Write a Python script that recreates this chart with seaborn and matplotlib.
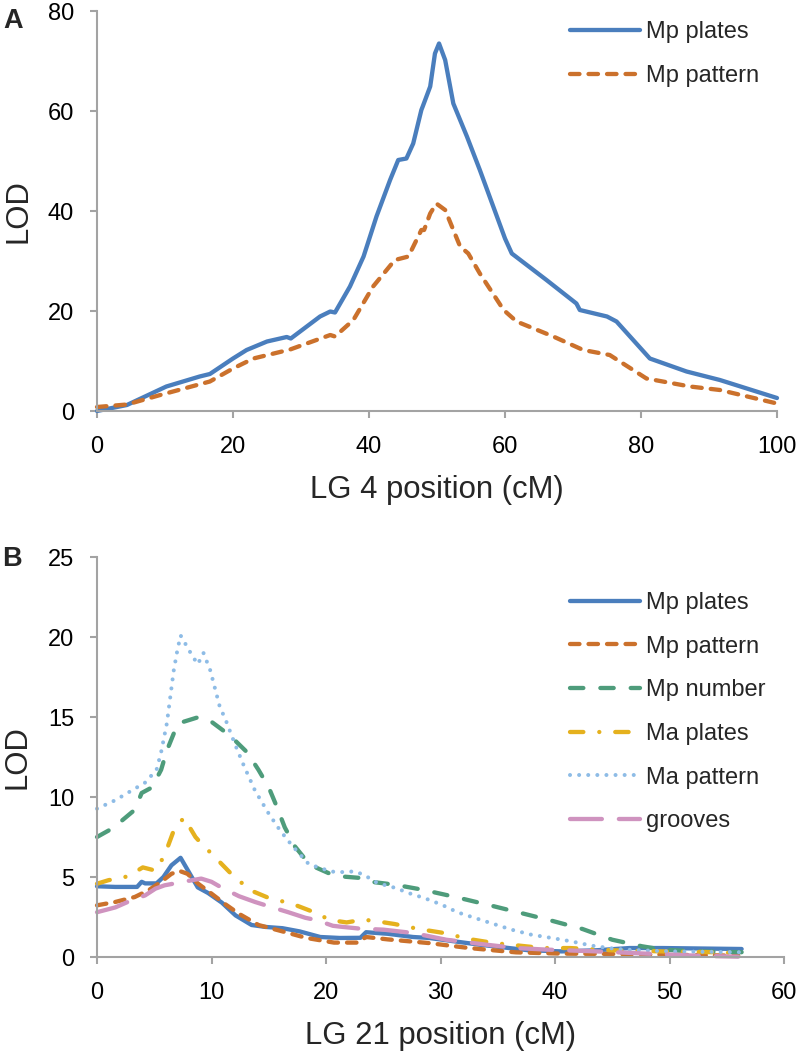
import numpy as np
import pandas as pd
import matplotlib
matplotlib.use("Agg")
import matplotlib.pyplot as plt
import seaborn as sns

# --- Panel A: LG 4 scan (position in cM, LOD) ---
lg4_plates_x = [0, 4.4, 10.2, 15.1, 16.6, 20.0, 22.0, 25.0, 27.9, 28.5, 32.8, 34.3, 35.0,
                37.2, 39.2, 41.1, 43.1, 44.3, 45.5, 46.5, 47.7, 47.9, 49.0, 49.7, 50.3,
                51.2, 52.4, 54.4, 56.3, 60.0, 61.0, 66.1, 70.5, 71.0, 75.0, 76.4, 81.3,
                86.7, 91.6, 100.0]
lg4_plates_lod = [0, 1.2, 4.9, 6.9, 7.4, 10.5, 12.2, 13.9, 14.8, 14.5, 18.9, 19.9, 19.7,
                  24.9, 30.9, 38.9, 46.2, 50.2, 50.5, 53.5, 60.2, 60.9, 64.9, 71.5, 73.5,
                  70.2, 61.5, 54.9, 48.2, 34.5, 31.5, 26.2, 21.5, 20.2, 18.9, 17.9, 10.5,
                  7.9, 6.2, 2.6]
lg4_pattern_x = [0, 4.4, 9.3, 16.6, 20.0, 23.0, 28.4, 34.3, 35.0, 37.7, 40.6, 43.8, 45.8,
                 47.7, 48.1, 49.0, 49.9, 51.2, 53.4, 54.6, 56.3, 59.8, 61.7, 67.1, 71.5,
                 75.4, 80.8, 87.2, 91.6, 100.0]
lg4_pattern_lod = [0.8, 1.3, 3.2, 5.9, 8.5, 10.5, 12.3, 15.2, 14.9, 18.2, 24.9, 30.2, 30.9,
                   36.2, 36.2, 39.5, 41.5, 40.2, 32.9, 31.5, 27.5, 20.2, 17.9, 14.9, 12.2,
                   11.2, 6.5, 4.9, 4.2, 1.5]

# --- Panel B: LG 21 scan ---
lg21_mp_plates_x = [0, 1.6, 3.5, 3.9, 4.2, 5.2, 5.8, 6.5, 7.3, 8.8, 9.7, 10.9, 12.1, 13.5,
                    14.7, 16.2, 17.7, 19.5, 21.2, 23.0, 23.5, 25.4, 27.6, 29.0, 33.4, 37.7,
                    40.6, 43.6, 46.5, 49.4, 56.3]
lg21_mp_plates_lod = [4.42, 4.38, 4.38, 4.7, 4.6, 4.6, 5.0, 5.73, 6.2, 4.35, 4.0, 3.4, 2.6,
                      2.0, 1.88, 1.8, 1.6, 1.25, 1.19, 1.2, 1.55, 1.45, 1.25, 1.19, 0.77,
                      0.42, 0.35, 0.42, 0.56, 0.56, 0.5]
lg21_mp_pattern_x = [0, 1.6, 3.3, 4.5, 5.6, 6.5, 7.2, 7.9, 8.8, 10.0, 11.2, 12.4, 14.1, 16.2,
                     18.3, 20.7, 22.7, 23.5, 25.4, 29.0, 32.5, 36.6, 40.6, 45.0, 49.4, 56.0]
lg21_mp_pattern_lod = [3.23, 3.44, 3.75, 4.17, 4.7, 5.2, 5.38, 5.2, 4.6, 3.96, 3.3, 2.7, 2.0,
                       1.6, 1.19, 0.9, 0.9, 1.25, 1.1, 0.87, 0.56, 0.29, 0.21, 0.19, 0.15, 0.08]
lg21_mp_number_x = [0, 1.0, 2.2, 3.3, 3.9, 4.8, 5.6, 6.1, 6.7, 7.1, 8.0, 8.9, 10.0, 11.2,
                    12.1, 13.1, 14.1, 15.0, 15.7, 16.4, 17.3, 18.2, 19.1, 20.2, 21.1, 23.0,
                    23.6, 26.0, 28.4, 31.3, 34.1, 36.8, 39.6, 42.4, 45.0, 47.6, 49.4, 52.3,
                    56.3]
lg21_mp_number_lod = [7.5, 7.9, 8.54, 9.2, 10.25, 10.6, 11.7, 12.9, 13.96, 14.6, 14.8, 15.0,
                      14.7, 14.06, 13.5, 12.8, 11.7, 10.6, 9.4, 8.1, 6.9, 6.1, 5.6, 5.25,
                      5.05, 4.94, 4.73, 4.52, 4.21, 3.75, 3.27, 2.79, 2.29, 1.75, 1.08, 0.67,
                      0.46, 0.35, 0.3]
lg21_ma_plates_x = [0, 1.0, 2.7, 4.0, 5.1, 5.9, 6.7, 7.1, 7.6, 8.6, 9.1, 10.1, 11.8, 13.4,
                    15.0, 15.9, 17.5, 19.5, 20.2, 21.8, 23.2, 24.1, 26.0, 28.1, 30.3, 32.5,
                    34.7, 36.9, 38.9, 41.3, 45.0, 49.4, 54.6, 56.3]
lg21_ma_plates_lod = [4.58, 4.8, 5.04, 5.6, 5.4, 6.35, 7.9, 8.3, 8.7, 7.5, 7.1, 6.39, 5.14,
                      4.17, 3.69, 3.54, 3.2, 2.65, 2.33, 2.16, 2.33, 2.27, 2.06, 1.75, 1.5,
                      1.12, 0.87, 0.71, 0.56, 0.56, 0.42, 0.35, 0.29, 0.21]
lg21_ma_pattern_x = [0, 1.6, 2.9, 4.2, 5.2, 5.6, 6.1, 6.4, 6.7, 7.0, 7.3, 7.7, 8.3, 8.8, 9.3,
                     9.9, 10.3, 10.7, 11.3, 12.05, 12.8, 13.8, 15.0, 16.0, 17.0, 18.5, 20.2,
                     20.9, 22.5, 23.3, 24.5, 26.1, 27.2, 28.6, 30.1, 31.5, 33.0, 34.4, 36.2,
                     37.9, 39.7, 41.4, 43.2, 44.7, 46.1, 50.0, 56.3]
lg21_ma_pattern_lod = [9.27, 9.8, 10.35, 10.9, 11.7, 12.8, 14.6, 16.25, 17.9, 19.1, 20.1,
                       19.6, 18.85, 18.3, 19.0, 17.9, 16.8, 15.7, 14.7, 13.3, 12.0, 10.4,
                       8.96, 7.9, 7.0, 5.8, 5.4, 5.29, 5.35, 5.14, 4.62, 4.31, 4.0, 3.68,
                       3.27, 2.79, 2.44, 2.12, 1.71, 1.4, 1.19, 0.98, 0.71, 0.56, 0.46, 0.35,
                       0.3]
lg21_grooves_x = [0, 1.6, 3.0, 4.2, 5.1, 5.9, 6.8, 8.3, 9.1, 10.0, 10.9, 12.4, 13.8, 15.0,
                  16.7, 18.2, 19.2, 20.6, 21.2, 23.0, 25.0, 27.6, 30.5, 34.0, 36.6, 39.3,
                  43.6, 48.0, 52.4, 56.0]
lg21_grooves_lod = [2.8, 3.1, 3.54, 3.85, 4.27, 4.48, 4.6, 4.8, 4.9, 4.7, 4.33, 3.8, 3.44,
                    3.17, 2.8, 2.45, 2.3, 1.95, 1.9, 1.77, 1.71, 1.5, 1.08, 0.77, 0.56, 0.46,
                    0.35, 0.21, 0.08, 0.02]

lg4_ticks_x = [0, 20, 40, 60, 80, 100]
lg4_ticks_y = [0, 20, 40, 60, 80]
lg21_ticks_x = [0, 10, 20, 30, 40, 50, 60]
lg21_ticks_y = [0, 5, 10, 15, 20, 25]

# colours and Excel-like dash patterns (in units of line width)
BLUE, ORANGE, GREEN = "#4A7EBD", "#CB712C", "#4E9C7B"
GOLD, LIGHTBLUE, PINK = "#E5B11E", "#8EBCE6", "#CF93BF"
AXIS_GREY = "#A3A3A3"
LW = 3.1
SHORT_DASH = (0, (2.2, 2.1))
LONG_DASH = (0, (3.1, 3.95))
DASH_DOT = (0, (3.1, 3.7, 0.01, 3.7))
DOTS = (0, (0.01, 2.25))
LONG_LONG_DASH = (0, (7.4, 3.95))

sns.set_style("ticks")
plt.rcParams["font.family"] = ["Liberation Sans", "DejaVu Sans"]
plt.rcParams["lines.dash_capstyle"] = "round"
plt.rcParams["lines.solid_capstyle"] = "round"
plt.rcParams["lines.dash_joinstyle"] = "round"
plt.rcParams["lines.solid_joinstyle"] = "round"

W, H = 797, 1054
fig = plt.figure(figsize=(W / 100, H / 100), dpi=100)
ax_a = fig.add_axes([97 / W, 1 - 411 / H, 680 / W, 400 / H])
ax_b = fig.add_axes([97 / W, 1 - 957 / H, 687 / W, 400 / H])


def draw(ax, x, y, label, color, ls, lw=LW):
    df = pd.DataFrame({"pos": x, "lod": y})
    sns.lineplot(data=df, x="pos", y="lod", ax=ax, color=color, linestyle=ls,
                 linewidth=lw, label=label, estimator=None, sort=False, clip_on=False)


def style_axis(ax, xticks, yticks, xlabel):
    ax.set_xlim(xticks[0], xticks[-1])
    ax.set_ylim(yticks[0], yticks[-1])
    ax.set_xticks(xticks)
    ax.set_yticks(yticks)
    sns.despine(ax=ax)
    for side in ("left", "bottom"):
        ax.spines[side].set_color(AXIS_GREY)
        ax.spines[side].set_linewidth(1.5)
    ax.tick_params(axis="both", direction="out", length=5, width=1.5,
                   color=AXIS_GREY, labelsize=17, labelcolor="black")
    ax.tick_params(axis="x", pad=13)
    ax.tick_params(axis="y", pad=11.5)
    ax.set_xlabel(xlabel, fontsize=22.4)
    ax.xaxis.set_label_coords(0.5, -0.16)
    ax.set_ylabel("LOD", fontsize=22.4)
    ax.yaxis.set_label_coords(-0.094, 0.5)


# Panel A
draw(ax_a, lg4_plates_x, lg4_plates_lod, "Mp plates", BLUE, "-")
draw(ax_a, lg4_pattern_x, lg4_pattern_lod, "Mp pattern", ORANGE, SHORT_DASH)
style_axis(ax_a, lg4_ticks_x, lg4_ticks_y, "LG 4 position (cM)")

# Panel B
draw(ax_b, lg21_mp_plates_x, lg21_mp_plates_lod, "Mp plates", BLUE, "-")
draw(ax_b, lg21_mp_pattern_x, lg21_mp_pattern_lod, "Mp pattern", ORANGE, SHORT_DASH)
draw(ax_b, lg21_mp_number_x, lg21_mp_number_lod, "Mp number", GREEN, LONG_DASH)
draw(ax_b, lg21_ma_plates_x, lg21_ma_plates_lod, "Ma plates", GOLD, DASH_DOT)
draw(ax_b, lg21_ma_pattern_x, lg21_ma_pattern_lod, "Ma pattern", LIGHTBLUE, DOTS, lw=2.9)
draw(ax_b, lg21_grooves_x, lg21_grooves_lod, "grooves", PINK, LONG_LONG_DASH)
style_axis(ax_b, lg21_ticks_x, lg21_ticks_y, "LG 21 position (cM)")

legend_kw = dict(loc="upper left", frameon=False, fontsize=17, handlelength=2.96,
                 handletextpad=0.27, labelspacing=0.92, borderpad=0, borderaxespad=0)
ax_a.legend(bbox_to_anchor=(0.6956, 0.974), **legend_kw)
ax_b.legend(bbox_to_anchor=(0.6885, 0.913), **legend_kw)

fig.text(3 / W, 1 - 8 / H, "A", fontsize=19.5, fontweight="bold", va="top", ha="left")
fig.text(2 / W, 1 - 546 / H, "B", fontsize=19.5, fontweight="bold", va="top", ha="left")

fig.savefig("out.png", dpi=100)
